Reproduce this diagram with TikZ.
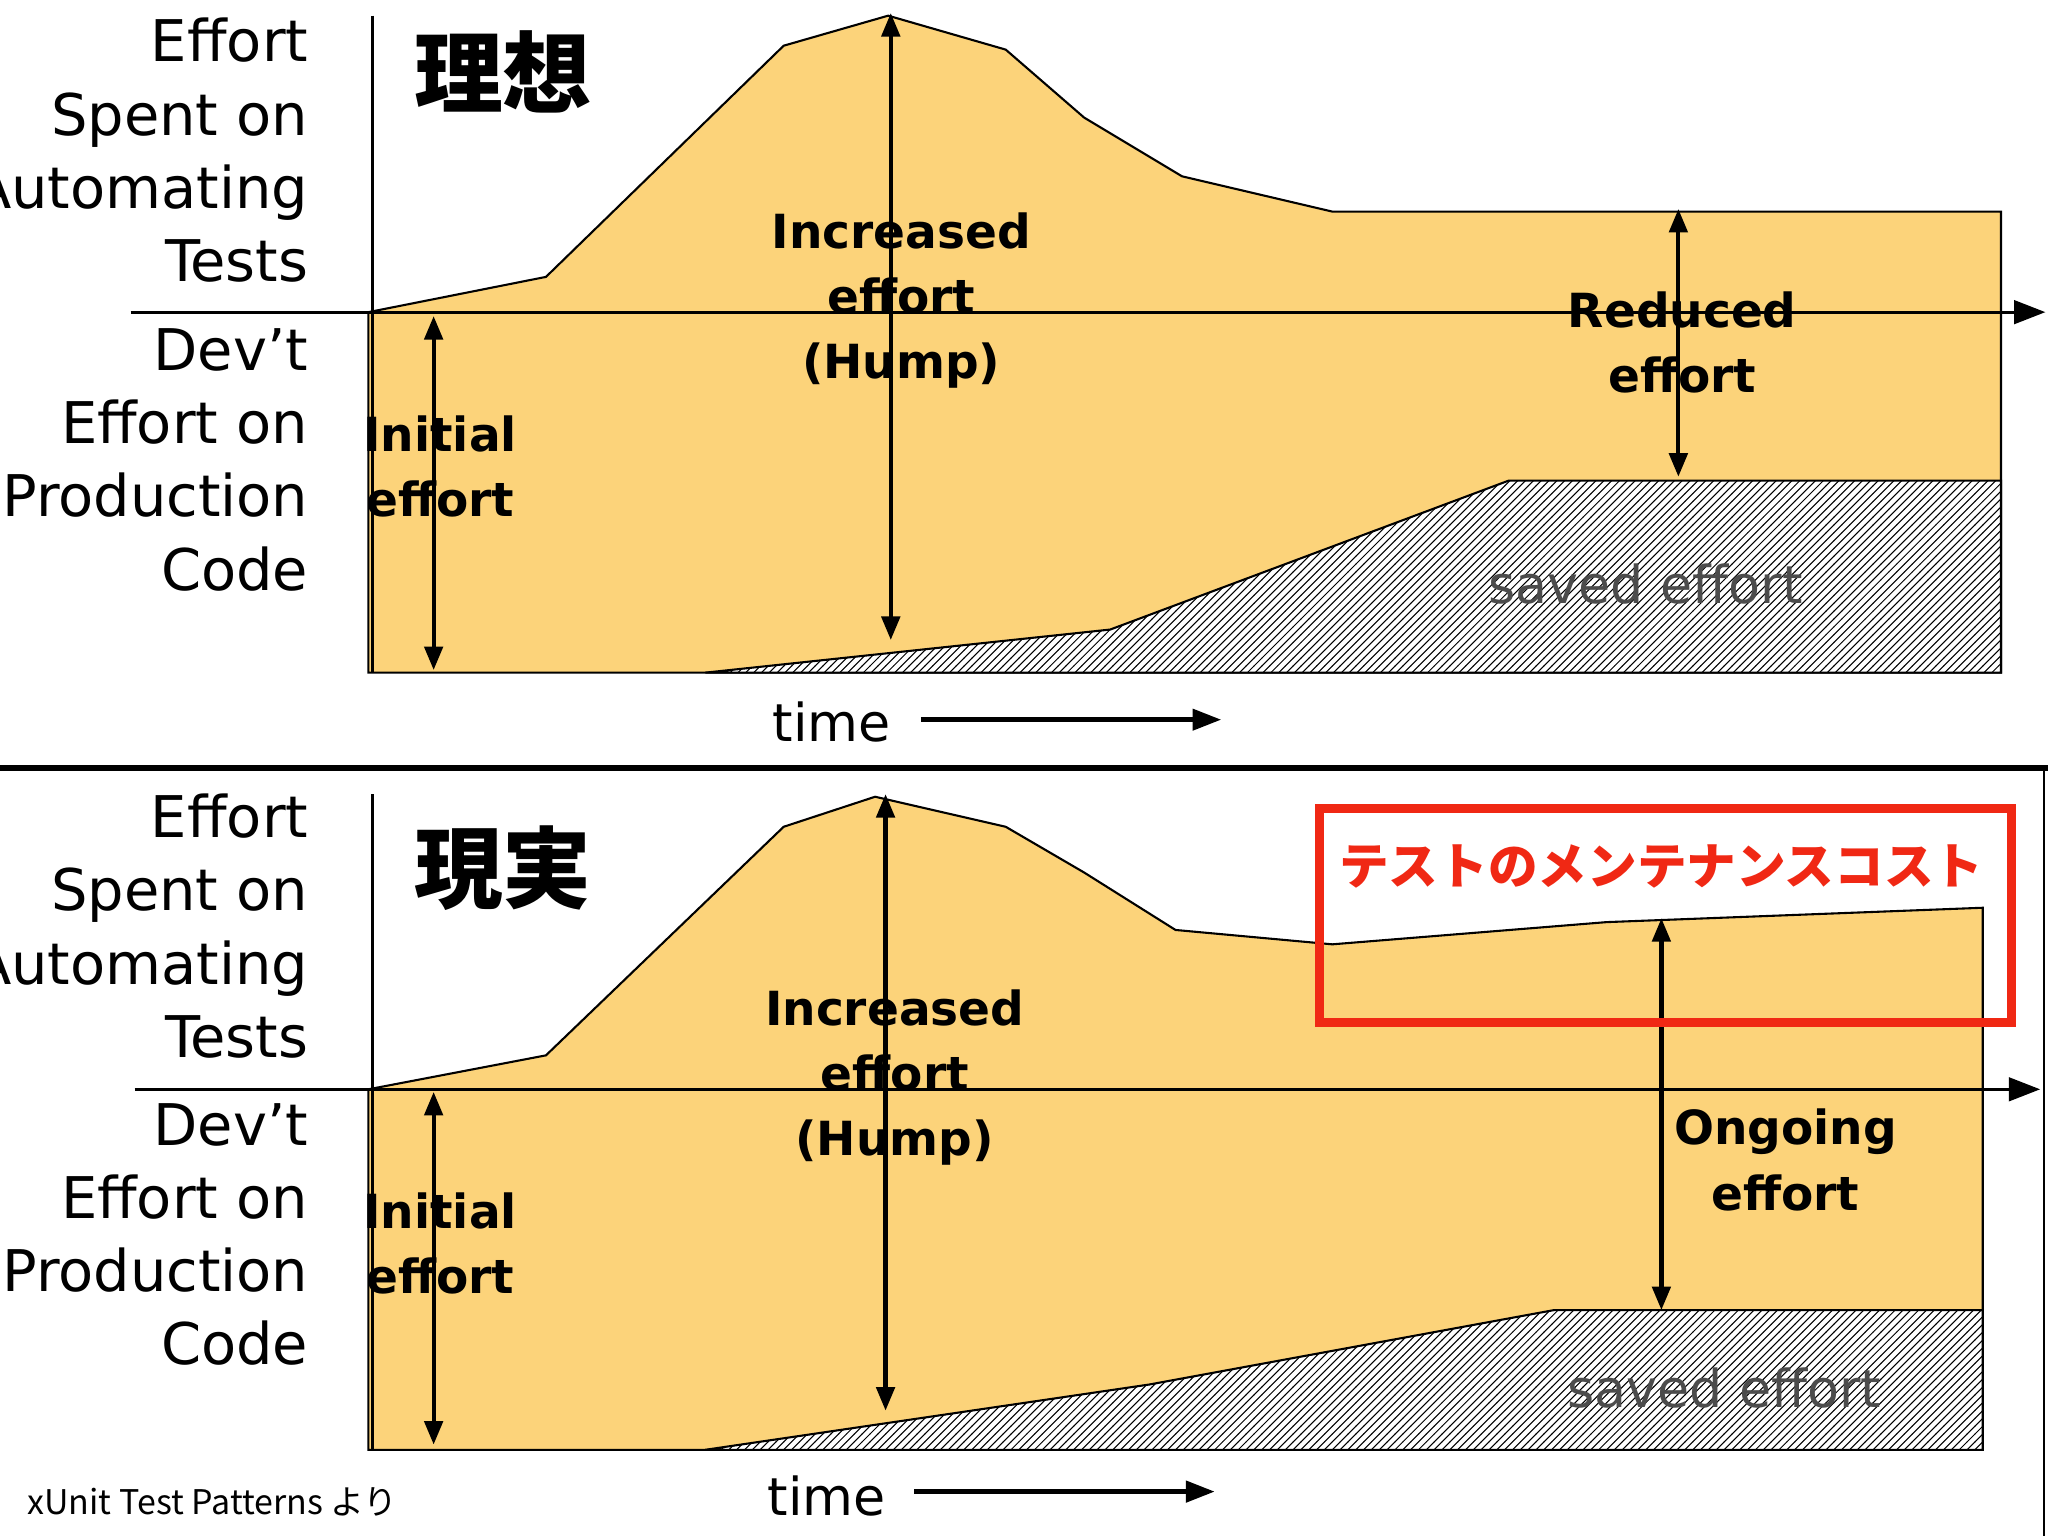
\documentclass[tikz,border=0pt]{standalone}
\usepackage{fontspec}
\setmainfont{DejaVu Sans}
\newfontfamily\cjk{Noto Sans CJK JP}
\usetikzlibrary{patterns,arrows.meta}
\definecolor{fillc}{RGB}{252,211,122}
\definecolor{redc}{RGB}{240,40,20}
\tikzset{
 dbl/.style={{Triangle[length=9pt,width=7pt]}-{Triangle[length=9pt,width=7pt]},line width=1.6pt},
 ax/.style={line width=1.2pt},
 lbl/.style={align=right,anchor=east,font=\fontsize{22}{28}\selectfont},
 inl/.style={align=center,font=\bfseries\fontsize{18}{25}\selectfont},
 big/.style={font=\cjk\bfseries\fontsize{34}{34}\selectfont},
}
\begin{document}
\begin{tikzpicture}[x=0.5pt,y=-0.5pt]
\useasboundingbox (0,0) rectangle (1568,1176);
% ===== top panel
\filldraw[fill=fillc,draw=black,line width=0.8pt] (282,515) -- (282,239) -- (418,212) -- (600,35) -- (680,12) -- (770,38) -- (830,90) -- (905,135) -- (1020,162) -- (1532,162) -- (1532,515) -- cycle;
\fill[white] (540,515) -- (850,482) -- (1155,368) -- (1532,368) -- (1532,515) -- cycle;
\draw[pattern=north east lines,draw=black,line width=0.8pt] (540,515) -- (850,482) -- (1155,368) -- (1532,368) -- (1532,515) -- cycle;
\draw[ax] (285,12) -- (285,515);
\draw[ax,-{Triangle[length=12pt,width=9pt]}] (100,239) -- (1566,239);
\coordinate (i1a) at (332,242); \coordinate (i1b) at (332,513);
\coordinate (h1a) at (682,10); \coordinate (h1b) at (682,490);
\coordinate (r1a) at (1285,160); \coordinate (r1b) at (1285,365);
\draw[dbl] (i1a) -- (i1b);
\draw[dbl] (h1a) -- (h1b);
\draw[dbl] (r1a) -- (r1b);
\node[lbl] (t1) at (243,115) {Effort\\Spent on\\Automating\\Tests};
\node[lbl] (d1) at (243,352) {Dev't\\Effort on\\Production\\Code};
\node[big] (ja1) at (385,55) {理想};
\node[inl] (inc1) at (690,230) {Increased\\effort\\(Hump)};
\node[inl] (red1) at (1288,262) {Reduced\\effort};
\node[inl] (ini1) at (337,357) {Initial\\effort};
\node[font=\fontsize{20}{24}\selectfont,text=black!70] (sv1) at (1260,447) {saved effort};
\node[font=\fontsize{20}{24}\selectfont] (tm1) at (637,553) {time};
\coordinate (ta1) at (705,551); \coordinate (tb1) at (935,551);
\draw[line width=1.8pt,-{Triangle[length=11pt,width=8pt]}] (ta1) -- (tb1);
% ===== separator frame
\draw[line width=2.5pt] (0,588) -- (1568,588);
\draw[line width=1pt] (1565,588) -- (1565,1176);
% ===== bottom panel
\filldraw[fill=fillc,draw=black,line width=0.8pt] (282,1110) -- (282,834) -- (418,808) -- (600,633) -- (670,610) -- (770,633) -- (830,668) -- (900,712) -- (1020,723) -- (1230,706) -- (1518,695) -- (1518,1110) -- cycle;
\fill[white] (540,1110) -- (880,1060) -- (1190,1003) -- (1518,1003) -- (1518,1110) -- cycle;
\draw[pattern=north east lines,draw=black,line width=0.8pt] (540,1110) -- (880,1060) -- (1190,1003) -- (1518,1003) -- (1518,1110) -- cycle;
\draw[ax] (285,608) -- (285,1110);
\draw[ax,-{Triangle[length=12pt,width=9pt]}] (103,834) -- (1562,834);
\coordinate (i2a) at (332,836); \coordinate (i2b) at (332,1106);
\coordinate (h2a) at (678,608); \coordinate (h2b) at (678,1080);
\coordinate (o2a) at (1272,703); \coordinate (o2b) at (1272,1003);
\draw[dbl] (i2a) -- (i2b);
\draw[dbl] (h2a) -- (h2b);
\draw[dbl] (o2a) -- (o2b);
\node[lbl] (t2) at (243,709) {Effort\\Spent on\\Automating\\Tests};
\node[lbl] (d2) at (243,945) {Dev't\\Effort on\\Production\\Code};
\node[big] (ja2) at (385,665) {現実};
\node[inl] (inc2) at (685,825) {Increased\\effort\\(Hump)};
\node[inl] (on2) at (1367,888) {Ongoing\\effort};
\node[inl] (ini2) at (337,952) {Initial\\effort};
\node[font=\fontsize{20}{24}\selectfont,text=black!70] (sv2) at (1320,1063) {saved effort};
\node[font=\fontsize{20}{24}\selectfont] (tm2) at (633,1145) {time};
\coordinate (ta2) at (700,1142); \coordinate (tb2) at (930,1142);
\draw[line width=1.8pt,-{Triangle[length=11pt,width=8pt]}] (ta2) -- (tb2);
\draw[redc,line width=3.5pt] (1010,619) rectangle (1540,783);
\node[font=\cjk\bfseries\fontsize{19}{22}\selectfont,text=redc] (mc) at (1272,663) {テストのメンテナンスコスト};
\node[anchor=west,font=\cjk\fontsize{13}{16}\selectfont] (src) at (14,1150) {xUnit Test Patterns より};
\end{tikzpicture}
\end{document}
